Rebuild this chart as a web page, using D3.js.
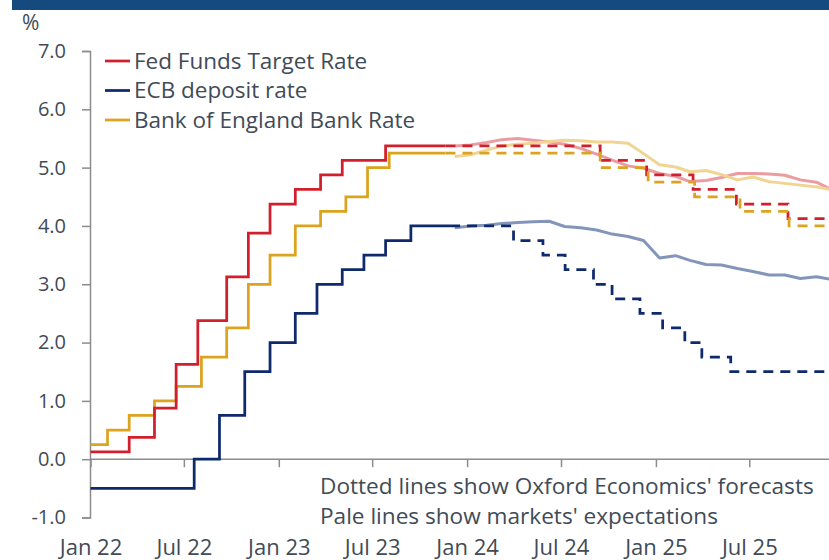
<!DOCTYPE html>
<html>
<head>
<meta charset="utf-8">
<script src="https://cdn.jsdelivr.net/npm/d3@7/dist/d3.min.js"></script>
<style>
  html, body { margin: 0; padding: 0; background: #ffffff; }
  svg { display: block; }
  text { font-family: "Open Sans", "Noto Sans", sans-serif; fill: #414b57; }
</style>
</head>
<body>
<svg id="chart" width="829" height="560"></svg>
<script>
// ---------------- DATA ----------------
const seriesNames = ["Fed Funds Target Rate", "ECB deposit rate", "Bank of England Bank Rate"];

// Actual policy rates (step changes: date, rate)
const fedDates   = ["2022-01-01","2022-03-17","2022-05-05","2022-06-16","2022-07-28","2022-09-22","2022-11-03","2022-12-15","2023-02-02","2023-03-23","2023-05-04","2023-07-27","2023-11-20"];
const fedValues  = [0.125,0.375,0.875,1.625,2.375,3.125,3.875,4.375,4.625,4.875,5.125,5.375,5.375];

const ecbDates   = ["2022-01-01","2022-07-21","2022-09-08","2022-10-27","2022-12-15","2023-02-02","2023-03-16","2023-05-04","2023-06-15","2023-07-27","2023-09-14","2023-11-29"];
const ecbValues  = [-0.5,0.0,0.75,1.5,2.0,2.5,3.0,3.25,3.5,3.75,4.0,4.0];

const boeDates   = ["2022-01-01","2022-02-03","2022-03-17","2022-05-05","2022-06-16","2022-08-04","2022-09-22","2022-11-03","2022-12-15","2023-02-02","2023-03-23","2023-05-11","2023-06-22","2023-08-03","2023-11-20"];
const boeValues  = [0.25,0.5,0.75,1.0,1.25,1.75,2.25,3.0,3.5,4.0,4.25,4.5,5.0,5.25,5.25];

// Oxford Economics forecasts (dashed step lines)
const fedFcDates  = ["2023-11-20","2024-09-15","2024-12-14","2025-03-14","2025-06-06","2025-09-14","2025-12-31"];
const fedFcValues = [5.375,5.125,4.875,4.625,4.375,4.125,4.125];

const ecbFcDates  = ["2023-11-29","2024-03-31","2024-05-27","2024-07-09","2024-09-02","2024-10-08","2024-12-01","2025-01-14","2025-02-26","2025-03-31","2025-05-26","2025-12-31"];
const ecbFcValues = [4.0,3.75,3.5,3.25,3.0,2.75,2.5,2.25,2.0,1.75,1.5,1.5];

const boeFcDates  = ["2023-11-20","2024-09-15","2024-12-17","2025-03-17","2025-06-13","2025-09-16","2025-12-31"];
const boeFcValues = [5.25,5.0,4.75,4.5,4.25,4.0,4.0];

// Market expectations (pale lines), monthly
const mktDates = ["2023-12-08","2024-01-08","2024-02-08","2024-03-08","2024-04-08","2024-05-08","2024-06-08","2024-07-08","2024-08-08","2024-09-08","2024-10-08","2024-11-08","2024-12-08",
                  "2025-01-08","2025-02-08","2025-03-08","2025-04-08","2025-05-08","2025-06-08","2025-07-08","2025-08-08","2025-09-08","2025-10-08","2025-11-08","2025-12-08"];
const fedMkt = [5.37,5.39,5.43,5.48,5.50,5.47,5.44,5.40,5.33,5.23,5.13,5.03,4.99,4.90,4.85,4.76,4.78,4.83,4.90,4.90,4.89,4.87,4.79,4.75,4.62];
const ecbMkt = [3.97,4.00,4.01,4.04,4.06,4.07,4.08,3.99,3.97,3.93,3.86,3.82,3.75,3.45,3.49,3.41,3.34,3.33,3.27,3.22,3.16,3.16,3.10,3.13,3.08];
const boeMkt = [5.19,5.22,5.30,5.37,5.40,5.42,5.45,5.47,5.46,5.44,5.44,5.42,5.24,5.05,5.01,4.93,4.95,4.88,4.79,4.84,4.76,4.73,4.70,4.67,4.62];

const yTicks = [-1,0,1,2,3,4,5,6,7];
const xTickLabels = ["Jan 22","Jul 22","Jan 23","Jul 23","Jan 24","Jul 24","Jan 25","Jul 25"];
const xTickDates  = ["2022-01-01","2022-07-01","2023-01-01","2023-07-01","2024-01-01","2024-07-01","2025-01-01","2025-07-01"];

const notes = ["Dotted lines show Oxford Economics' forecasts", "Pale lines show markets' expectations"];

// ---------------- STYLE ----------------
const colors     = { fed: "#d21f2d", ecb: "#0f2a6c", boe: "#dca31e" };
const paleColors = { fed: "#ea9ca1", ecb: "#8396ba", boe: "#f1d492" };

// ---------------- DRAW ----------------
const parse = d3.timeParse("%Y-%m-%d");
const svg = d3.select("#chart");

const x = d3.scaleTime()
  .domain([parse("2022-01-01"), parse("2025-07-01")])
  .range([90.5, 749.3]);
const y = d3.scaleLinear().domain([-1, 7]).range([517.5, 51]);

// header band
svg.append("rect").attr("x", 12).attr("y", 0).attr("width", 817).attr("height", 10).attr("fill", "#16497d");

// % label
svg.append("text").attr("x", 22).attr("y", 30).attr("font-size", 21).text("%");

// y axis
const fmt = d3.format(".1f");
const yAxis = d3.axisLeft(y).tickValues(yTicks).tickSize(8).tickPadding(16)
  .tickFormat(d => fmt(d).replace("\u2212", "-"));
const gy = svg.append("g").attr("transform", "translate(90,0)").call(yAxis);
gy.select(".domain").attr("stroke", "#8c8c8c").attr("stroke-width", 1.5);
gy.selectAll(".tick line").attr("stroke", "#8c8c8c").attr("stroke-width", 1.5);
gy.selectAll(".tick text").attr("font-size", 20).attr("font-family", "Open Sans").attr("fill", "#414b57");

// x axis at y = 0
const xAxis = d3.axisBottom(x).tickValues(xTickDates.map(parse)).tickSize(8)
  .tickFormat((d, i) => xTickLabels[i]);
const gx = svg.append("g").attr("transform", `translate(0,${y(0)})`).call(xAxis);
gx.select(".domain").attr("d", `M90,0H829`).attr("stroke", "#8c8c8c").attr("stroke-width", 1.5);
gx.selectAll(".tick line").attr("stroke", "#8c8c8c").attr("stroke-width", 1.5);
gx.selectAll(".tick text").attr("font-size", 22).attr("font-family", "Open Sans").attr("fill", "#414b57")
  .attr("dy", 0).attr("y", 96);

// notes
svg.append("g").selectAll("text").data(notes).join("text")
  .attr("x", 320).attr("y", (d, i) => 494 + i * 30)
  .attr("font-size", 22.6).text(d => d);

const stepLine = d3.line().x(d => x(d.date)).y(d => y(d.value)).curve(d3.curveStepAfter);
const smoothLine = d3.line().x(d => x(d.date)).y(d => y(d.value));
const zip = (ds, vs) => ds.map((d, i) => ({ date: parse(d), value: vs[i] }));

const plot = svg.append("g");

// pale market lines
[["fed", fedMkt], ["ecb", ecbMkt], ["boe", boeMkt]].forEach(([k, vals]) => {
  plot.append("path").datum(zip(mktDates, vals))
    .attr("d", smoothLine).attr("fill", "none")
    .attr("stroke", paleColors[k]).attr("stroke-width", 3).attr("stroke-linejoin", "round");
});

// forecast dashed lines
[["fed", fedFcDates, fedFcValues], ["ecb", ecbFcDates, ecbFcValues], ["boe", boeFcDates, boeFcValues]].forEach(([k, ds, vs]) => {
  plot.append("path").datum(zip(ds, vs))
    .attr("d", stepLine).attr("fill", "none")
    .attr("stroke", colors[k]).attr("stroke-width", 2.75).attr("stroke-dasharray", "10,7");
});

// actual lines
[["boe", boeDates, boeValues], ["ecb", ecbDates, ecbValues], ["fed", fedDates, fedValues]].forEach(([k, ds, vs]) => {
  plot.append("path").datum(zip(ds, vs))
    .attr("d", stepLine).attr("fill", "none")
    .attr("stroke", colors[k]).attr("stroke-width", 2.75);
});

// legend
const legend = svg.append("g");
const keys = ["fed", "ecb", "boe"];
seriesNames.forEach((name, i) => {
  const yy = 61 + i * 29.5;
  legend.append("line").attr("x1", 105).attr("x2", 130).attr("y1", yy).attr("y2", yy)
    .attr("stroke", colors[keys[i]]).attr("stroke-width", 2.75);
  legend.append("text").attr("x", 134).attr("y", yy + 7.5).attr("font-size", 22.5).text(name);
});
</script>
</body>
</html>
